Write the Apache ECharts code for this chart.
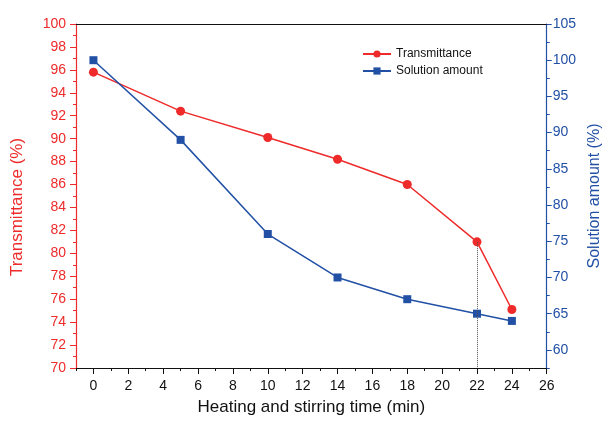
<!DOCTYPE html>
<html>
<head>
<meta charset="utf-8">
<script src="https://cdn.jsdelivr.net/npm/echarts@6/dist/echarts.min.js"></script>
<style>
html,body{margin:0;padding:0;background:#fff;}
#c{width:611px;height:424px;}
</style>
</head>
<body>
<div id="c"></div>
<script>
var times = [0, 5, 10, 14, 18, 22, 24];
var transmittance = [95.8, 92.4, 90.1, 88.2, 86.0, 81.0, 75.1];
var solutionAmount = [100, 89.0, 76.0, 70.0, 67.0, 65.0, 64.0];
var xTickLabels = [0, 2, 4, 6, 8, 10, 12, 14, 16, 18, 20, 22, 24, 26];
var rightTickLabels = [60, 65, 70, 75, 80, 85, 90, 95, 100, 105];
var rightMinorTicks = [57.5, 62.5, 67.5, 72.5, 77.5, 82.5, 87.5, 92.5, 97.5, 102.5];
var markTime = 22;

var RED = '#ee2a2a';
var BLUE = '#2150a5';
var FONT = 'Liberation Sans, Arial, sans-serif';

function pair(a, b) { return a.map(function (v, i) { return [v, b[i]]; }); }
var mi = times.indexOf(markTime);

var chart = echarts.init(document.getElementById('c'));
chart.setOption({
  animation: false,
  backgroundColor: '#fff',
  textStyle: { fontFamily: FONT },
  grid: { left: 76, right: 59, top: 24, bottom: 56, containLabel: false },
  legend: {
    left: 357, top: 43, orient: 'vertical', itemWidth: 28, itemHeight: 9, itemGap: 5,
    textStyle: { fontFamily: FONT, fontSize: 12, color: '#111' },
    data: ['Transmittance', 'Solution amount']
  },
  xAxis: [
    {
      type: 'value', position: 'bottom', min: -1, max: 26,
      name: 'Heating and stirring time (min)', nameLocation: 'middle', nameGap: 31,
      nameTextStyle: { fontFamily: FONT, fontSize: 17, color: '#111' },
      axisLine: { onZero: false, lineStyle: { color: '#111', width: 1.2 } },
      axisTick: { show: true, length: 6, customValues: xTickLabels, lineStyle: { color: '#111' } },
      axisLabel: { customValues: xTickLabels, margin: 11, fontSize: 14, color: '#111', fontFamily: FONT },
      splitLine: { show: false }
    },
    {
      type: 'value', position: 'bottom', min: -1, max: 26, interval: 1,
      axisLine: { show: false, onZero: false },
      axisTick: { show: true, length: 3, lineStyle: { color: '#111' } },
      axisLabel: { show: false }, splitLine: { show: false }
    },
    {
      type: 'value', position: 'top', min: -1, max: 26,
      axisLine: { show: true, onZero: false, lineStyle: { color: '#111', width: 1.2 } },
      axisTick: { show: false }, axisLabel: { show: false }, splitLine: { show: false }
    }
  ],
  yAxis: [
    {
      type: 'value', position: 'left', min: 70, max: 100, interval: 2,
      name: 'Transmittance (%)', nameLocation: 'middle', nameGap: 50,
      nameTextStyle: { fontFamily: FONT, fontSize: 17, color: RED, padding: [0, 22, 0, 0] },
      axisLine: { show: true, onZero: false, lineStyle: { color: RED, width: 1.2 } },
      axisTick: { show: true, length: 6, lineStyle: { color: RED } },
      minorTick: { show: true, splitNumber: 2, length: 3, lineStyle: { color: RED } },
      axisLabel: { margin: 10, fontSize: 14, color: RED, fontFamily: FONT },
      splitLine: { show: false }, minorSplitLine: { show: false }
    },
    {
      type: 'value', position: 'right', min: 57.5, max: 105,
      name: 'Solution amount (%)', nameLocation: 'middle', nameGap: 37,
      nameTextStyle: { fontFamily: FONT, fontSize: 16, color: BLUE },
      axisLine: { show: true, onZero: false, lineStyle: { color: BLUE, width: 1.2 } },
      axisTick: { show: true, length: 5, customValues: rightTickLabels, lineStyle: { color: BLUE } },
      axisLabel: { customValues: rightTickLabels, margin: 6, fontSize: 14, color: BLUE, fontFamily: FONT },
      splitLine: { show: false }
    },
    {
      type: 'value', position: 'right', min: 57.5, max: 105,
      axisLine: { show: false, onZero: false },
      axisTick: { show: true, length: 3, customValues: rightMinorTicks, lineStyle: { color: BLUE } },
      axisLabel: { show: false, customValues: rightMinorTicks }, splitLine: { show: false }
    }
  ],
  series: [
    {
      name: 'Transmittance', type: 'line', xAxisIndex: 0, yAxisIndex: 0,
      data: pair(times, transmittance),
      symbol: 'circle', symbolSize: 9,
      lineStyle: { color: RED, width: 1.5 }, itemStyle: { color: RED },
      markLine: {
        silent: true, symbol: 'none', label: { show: false },
        lineStyle: { color: '#555', type: 'dotted', width: 1 },
        data: [[{ coord: [markTime, transmittance[mi]] }, { coord: [markTime, 70] }]]
      },
      z: 3
    },
    {
      name: 'Solution amount', type: 'line', xAxisIndex: 0, yAxisIndex: 1,
      data: pair(times, solutionAmount),
      symbol: 'rect', symbolSize: 8,
      lineStyle: { color: BLUE, width: 1.5 }, itemStyle: { color: BLUE },
      z: 4
    }
  ]
});
</script>
</body>
</html>
